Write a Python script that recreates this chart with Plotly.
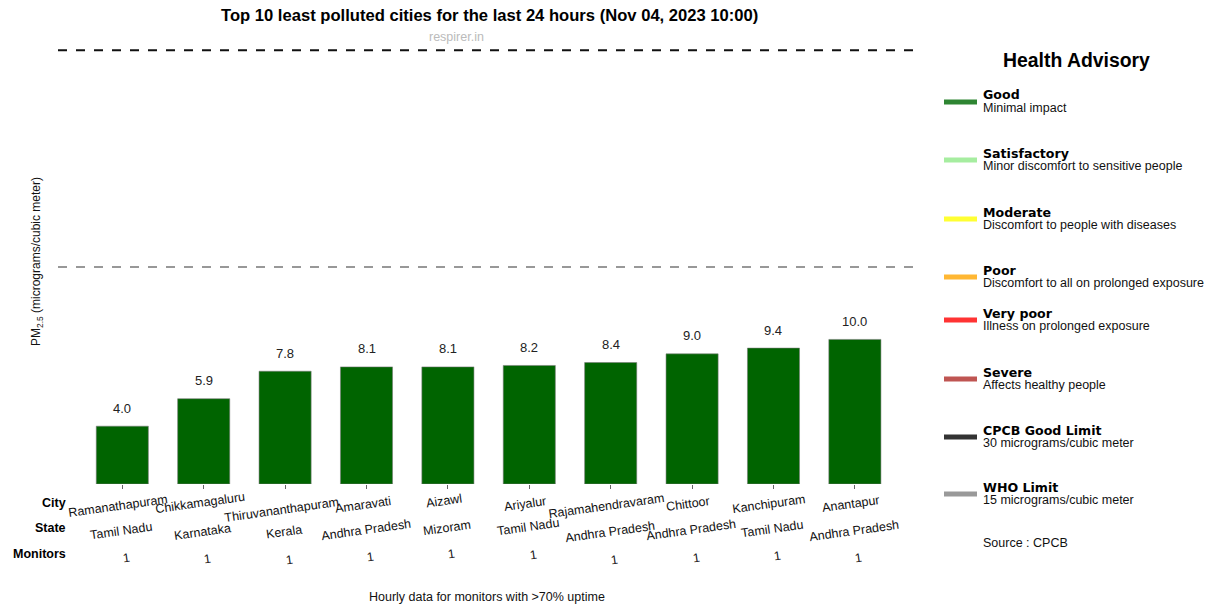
import plotly.graph_objects as go

# ---------------- data ----------------
cities = ["Ramanathapuram", "Chikkamagaluru", "Thiruvananthapuram", "Amaravati", "Aizawl",
          "Ariyalur", "Rajamahendravaram", "Chittoor", "Kanchipuram", "Anantapur"]
states = ["Tamil Nadu", "Karnataka", "Kerala", "Andhra Pradesh", "Mizoram",
          "Tamil Nadu", "Andhra Pradesh", "Andhra Pradesh", "Tamil Nadu", "Andhra Pradesh"]
monitors = [1, 1, 1, 1, 1, 1, 1, 1, 1, 1]
pm25 = [4.0, 5.9, 7.8, 8.1, 8.1, 8.2, 8.4, 9.0, 9.4, 10.0]
cpcb_limit = 30
who_limit = 15

advisory_names = ["Good", "Satisfactory", "Moderate", "Poor", "Very poor", "Severe",
                  "CPCB Good Limit", "WHO Limit"]
advisory_desc = ["Minimal impact", "Minor discomfort to sensitive people",
                 "Discomfort to people with diseases", "Discomfort to all on prolonged exposure",
                 "Illness on prolonged exposure", "Affects healthy people",
                 "30 micrograms/cubic meter", "15 micrograms/cubic meter"]

# ---------------- styles / layout tweaks ----------------
advisory_colors = ["#2e8532", "#a6eda0", "#ffff33", "#ffb733", "#ff3333", "#bf5552",
                   "#333333", "#999999"]
advisory_pix_y = [102, 160, 219, 277, 320, 379, 437, 494]   # swatch positions (px from top)
city_dy = [22, 19, 26, 21, 17, 20, 22, 20, 20, 20]          # label jitter (px below axis)
state_dy = [47, 48, 48, 46, 44, 43, 48, 46, 45, 47]
mon_dy = [74, 75, 76, 73, 70, 71, 76, 74, 72, 74]

W, H = 1213, 607
L, R, T, B = 58, 920, 43, 484   # plot area in window pixels
FONT = "Liberation Sans, Arial, sans-serif"
FS = 12.5


def px(x):
    return (x - L) / (R - L)


def py(y):
    return (B - y) / (B - T)


xs = list(range(len(cities)))

fig = go.Figure()
fig.add_trace(go.Bar(
    x=xs, y=pm25, width=0.64,
    marker=dict(color="#006400", line=dict(color="rgba(120,120,120,0.7)", width=0.8)),
    showlegend=False, hoverinfo="skip",
))

fig.add_hline(y=cpcb_limit, line=dict(color="#111111", width=2, dash="dash"))
fig.add_hline(y=who_limit, line=dict(color="#777777", width=1.5, dash="dash"))

ann = []
# value labels
for i, v in zip(xs, pm25):
    ann.append(dict(x=i, y=v, xref="x", yref="y", yshift=18, text=f"{v:.1f}", showarrow=False,
                    xanchor="center", yanchor="middle",
                    font=dict(family=FONT, size=13, color="#222")))
# row headers
for lbl, yy in [("City", 503), ("State", 528), ("Monitors", 554)]:
    ann.append(dict(x=px(68), xref="paper", y=py(yy), yref="paper", xanchor="right",
                    yanchor="middle", text=f"<b>{lbl}</b>", showarrow=False,
                    font=dict(family=FONT, size=FS, color="#000")))
for i in xs:
    for txt, dy, sx in [(cities[i], city_dy[i], -4), (states[i], state_dy[i], -1),
                        (str(monitors[i]), mon_dy[i], 4)]:
        ann.append(dict(x=i, xref="x", y=0, yref="y", xanchor="center", yanchor="middle",
                        xshift=sx, yshift=-dy, text=txt, textangle=-8, showarrow=False,
                        font=dict(family=FONT, size=FS, color="#111")))

# titles
ann.append(dict(x=px(489), y=py(16), xref="paper", yref="paper", xanchor="center",
                yanchor="middle", text="<b>Top 10 least polluted cities for the last 24 hours (Nov 04, 2023 10:00)</b>",
                showarrow=False, font=dict(family=FONT, size=16.6, color="#000")))
ann.append(dict(x=px(456), y=py(37), xref="paper", yref="paper", xanchor="center",
                yanchor="middle", text="respirer.in", showarrow=False,
                font=dict(family=FONT, size=FS, color="#bbbbbb")))
ann.append(dict(x=px(487), y=py(597), xref="paper", yref="paper", xanchor="center",
                yanchor="middle", text="Hourly data for monitors with >70% uptime", showarrow=False,
                font=dict(family=FONT, size=FS, color="#111")))
ann.append(dict(x=px(37), y=py(262), xref="paper", yref="paper", xanchor="center",
                yanchor="middle", textangle=-90,
                text="PM<sub>2.5</sub> (micrograms/cubic meter)", showarrow=False,
                font=dict(family=FONT, size=12, color="#111")))

# health advisory legend
ann.append(dict(x=px(1076), y=py(60), xref="paper", yref="paper", xanchor="center",
                yanchor="middle", text="<b>Health Advisory</b>", showarrow=False,
                font=dict(family=FONT, size=19.4, color="#000")))
for name, desc, col, yy in zip(advisory_names, advisory_desc, advisory_colors, advisory_pix_y):
    fig.add_shape(type="line", xref="paper", yref="paper", x0=px(944), x1=px(977),
                  y0=py(yy), y1=py(yy), line=dict(color=col, width=5))
    ann.append(dict(x=px(981), y=py(yy - 7), xref="paper", yref="paper", xanchor="left",
                    yanchor="middle", text=f"<b>{name}</b>", showarrow=False,
                    font=dict(family="DejaVu Sans, sans-serif", size=12.6, color="#000")))
    ann.append(dict(x=px(981), y=py(yy + 6), xref="paper", yref="paper", xanchor="left",
                    yanchor="middle", text=desc, showarrow=False,
                    font=dict(family=FONT, size=FS, color="#111")))
ann.append(dict(x=px(981), y=py(543), xref="paper", yref="paper", xanchor="left",
                yanchor="middle", text="Source : CPCB", showarrow=False,
                font=dict(family=FONT, size=FS, color="#111")))

fig.update_layout(
    width=W, height=H,
    margin=dict(l=L, r=W - R, t=T, b=H - B),
    paper_bgcolor="white", plot_bgcolor="white",
    xaxis=dict(range=[-0.79, 9.8], tickvals=xs, showticklabels=False, ticks="outside",
               ticklen=4, tickcolor="#666", showgrid=False, zeroline=False, showline=False,
               fixedrange=True),
    yaxis=dict(range=[0, 30.5], visible=False, showgrid=False, zeroline=False, fixedrange=True),
    annotations=ann, showlegend=False, bargap=0.3,
)

fig.write_html("out.html", config={"displayModeBar": False},
               post_script="document.body.style.margin='0';document.body.style.overflow='hidden';")
